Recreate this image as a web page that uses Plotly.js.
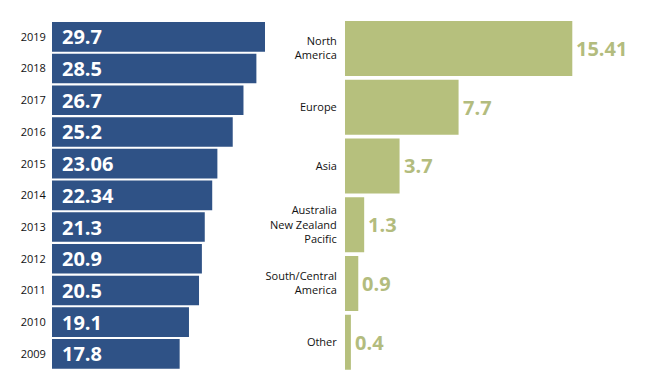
<!DOCTYPE html>
<html>
<head>
<meta charset="utf-8">
<script src="https://cdn.plot.ly/plotly-3.0.1.min.js"></script>
<style>html,body{margin:0;padding:0;background:#fff;}#chart{width:664px;height:387px;}</style>
</head>
<body>
<div id="chart"></div>
<script>
const years = ['2019','2018','2017','2016','2015','2014','2013','2012','2011','2010','2009'];
const yearValues = [29.7, 28.5, 26.7, 25.2, 23.06, 22.34, 21.3, 20.9, 20.5, 19.1, 17.8];
const yearLabels = ['29.7','28.5','26.7','25.2','23.06','22.34','21.3','20.9','20.5','19.1','17.8'];

const regions = ['North America','Europe','Asia','Australia New Zealand Pacific','South/Central America','Other'];
const regionTickText = ['North<br>America','Europe','Asia','Australia<br>New Zealand<br>Pacific','South/Central<br>America','Other'];
const regionValues = [15.41, 7.7, 3.7, 1.3, 0.9, 0.4];
const regionLabels = ['15.41','7.7','3.7','1.3','0.9','0.4'];

const blue = '#2f5286';
const green = '#b6c07d';
const greenText = '#b3bc7e';
const H = 387, W = 664;

const traces = [
  {type:'bar', orientation:'h', x: yearValues, y: years, xaxis:'x', yaxis:'y',
   marker:{color: blue}, hoverinfo:'none'},
  {type:'bar', orientation:'h', x: regionValues, y: regions, xaxis:'x2', yaxis:'y2',
   marker:{color: green}, hoverinfo:'none'}
];

const annotations = [];
years.forEach((yr, i) => annotations.push({
  x: 0, y: i, xref:'x', yref:'y', text: yearLabels[i], showarrow:false,
  xanchor:'left', yanchor:'middle', xshift: 8,
  font:{family:'Open Sans', size:20, color:'#ffffff', weight:'bold'}
}));
regions.forEach((r, i) => annotations.push({
  x: regionValues[i], y: i, xref:'x2', yref:'y2', text: regionLabels[i], showarrow:false,
  xanchor:'left', yanchor:'middle', xshift: 2,
  font:{family:'Open Sans', size:20, color: greenText, weight:'bold'}
}));

const layout = {
  width: W, height: H,
  margin:{l:0, r:0, t:0, b:0},
  paper_bgcolor:'#fff', plot_bgcolor:'#fff',
  showlegend:false,
  bargap: 0.065,
  font:{family:'Open Sans', size:11, color:'#111'},
  xaxis:{domain:[52/W, 265/W], range:[0, 29.7], visible:false, fixedrange:true},
  yaxis:{domain:[1-369.7/H, 1-21/H], type:'category', categoryorder:'array', categoryarray: years,
         range:[years.length-0.5, -0.5], autorange:false,
         showgrid:false, zeroline:false, showline:false,
         ticks:'outside', ticklen:3, tickcolor:'rgba(0,0,0,0)',
         tickfont:{family:'Open Sans', size:11, color:'#111'}},
  xaxis2:{domain:[345/W, 1], range:[0, 319/14.75], visible:false, fixedrange:true},
  yaxis2:{domain:[1-371.6/H, 1-19.1/H], type:'category', anchor:'x2',
          categoryorder:'array', categoryarray: regions,
          range:[regions.length-0.5, -0.5], autorange:false,
          tickvals: regions, ticktext: regionTickText,
          showgrid:false, zeroline:false, showline:false,
          ticks:'outside', ticklen:5, tickcolor:'rgba(0,0,0,0)',
          tickfont:{family:'Open Sans', size:11, color:'#111'}},
  annotations: annotations
};

Plotly.newPlot('chart', traces, layout, {displayModeBar:false, staticPlot:true});
</script>
</body>
</html>
